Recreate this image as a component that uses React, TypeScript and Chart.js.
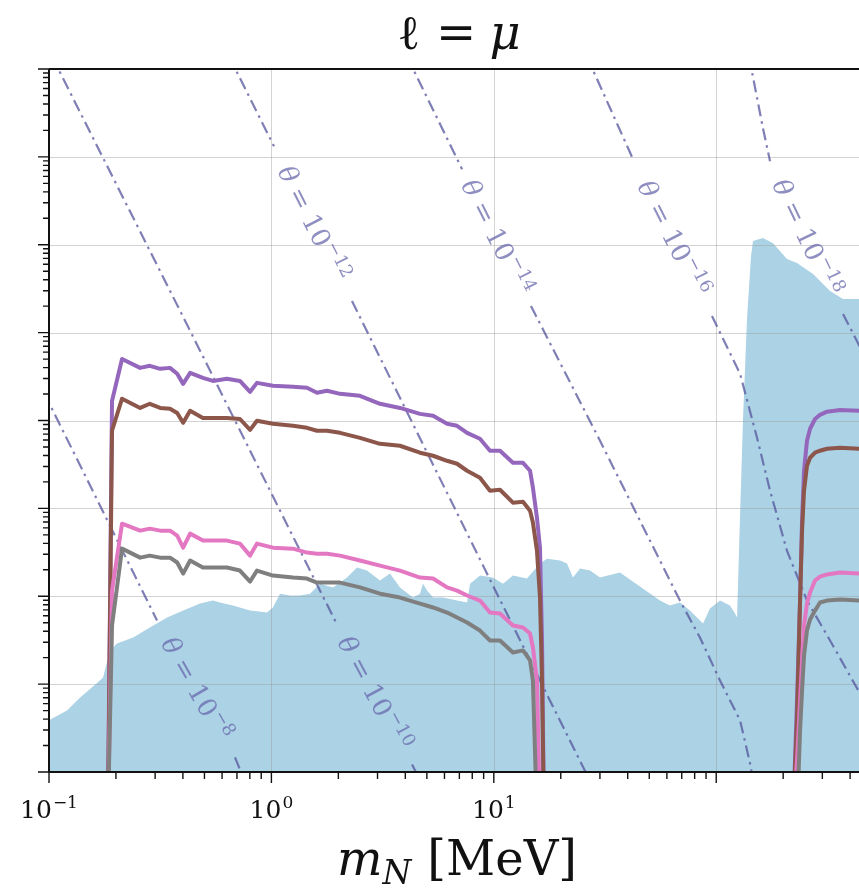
import React, { useEffect, useRef } from "react";
import { Chart, registerables } from "chart.js";

Chart.register(...registerables);

// ---------------- data (m_N in MeV, y in arbitrary units) ----------------
const X_MIN = 0.1;
const X_MAX = 438.5;
const Y_MIN = 1;
const Y_MAX = 1e8;

// low-mass branch of the four sensitivity curves
const massLow = [0.184, 0.192, 0.213, 0.257, 0.284, 0.316, 0.35, 0.377, 0.401, 0.431, 0.492, 0.546, 0.631, 0.722, 0.802, 0.861, 1.016, 1.25, 1.445, 1.603, 1.778, 2.035, 2.502, 3.078, 3.786, 4.656, 5.332, 6.163, 6.836, 7.582, 8.664, 9.611, 10.66, 12.19, 13.53, 14.55, 14.99, 15.63, 16.13, 16.47, 16.81];
// high-mass branch
const massHigh = [221.5, 230.8, 238.2, 243.2, 248.2, 255.9, 264.2, 278.1, 292.9, 314.8, 360.3, 442.9];

const purpleLow = [0.3, 1.67e4, 5.02e4, 3.97e4, 4.19e4, 3.87e4, 3.97e4, 3.4e4, 2.61e4, 3.48e4, 3.05e4, 2.82e4, 2.98e4, 2.82e4, 2.12e4, 2.68e4, 2.48e4, 2.42e4, 2.36e4, 2.07e4, 2.18e4, 2.01e4, 1.91e4, 1.55e4, 1.39e4, 1.19e4, 1.13e4, 9.18e3, 8.71e3, 7.24e3, 6.19e3, 4.53e3, 4.53e3, 3.3e3, 3.3e3, 2.68e3, 1.72e3, 783, 357, 31.4, 0.3];
const purpleHigh = [0.3, 6.53, 89.3, 725, 2.68e3, 5.88e3, 8.05e3, 1.04e4, 1.16e4, 1.26e4, 1.32e4, 1.29e4];

const brownLow = [0.3, 7.64e3, 1.77e4, 1.39e4, 1.55e4, 1.39e4, 1.36e4, 1.22e4, 9.42e3, 1.29e4, 1.07e4, 1.07e4, 1.07e4, 1.04e4, 7.83e3, 9.93e3, 9.18e3, 8.71e3, 8.26e3, 7.64e3, 7.64e3, 7.24e3, 6.35e3, 5.43e3, 5.16e3, 4.3e3, 3.97e3, 3.48e3, 3.22e3, 2.68e3, 2.23e3, 1.59e3, 1.63e3, 1.16e3, 1.19e3, 942, 689, 330, 96.6, 11.0, 0.3];
const brownHigh = [0.3, 3.87, 89.3, 558, 1.59e3, 3.05e3, 3.77e3, 4.3e3, 4.53e3, 4.77e3, 4.89e3, 4.77e3];

const pinkLow = [0.3, 116, 670, 558, 588, 558, 558, 490, 357, 516, 430, 430, 430, 397, 290, 397, 357, 348, 314, 305, 305, 290, 255, 223, 196, 163, 159, 126, 116, 102, 89.3, 65.3, 63.5, 46.5, 44.1, 37.7, 26.1, 11.0, 0.3, 0.3, 0.3];
const pinkHigh = [0.3, 1.36, 6.53, 18.6, 46.5, 82.6, 110, 151, 167, 177, 186, 181];

const grayLow = [0.3, 46.5, 348, 275, 290, 275, 275, 242, 181, 255, 212, 212, 212, 196, 147, 196, 172, 163, 159, 143, 143, 143, 126, 107, 96.6, 82.6, 74.5, 65.3, 57.3, 50.2, 40.7, 31.4, 31.4, 22.9, 24.2, 18.6, 11.0, 0.3, 0.3, 0.3, 0.3];
const grayHigh = [0.3, 0.3, 2.98, 8.47, 21.2, 40.7, 54.3, 68.7, 84.8, 89.3, 91.8, 89.3];

// upper edge of the shaded (excluded) region
const boundMass = [0.1, 0.1205, 0.138, 0.164, 0.175, 0.188, 0.202, 0.239, 0.284, 0.34, 0.401, 0.478, 0.546, 0.587, 0.671, 0.802, 0.955, 1.016, 1.093, 1.212, 1.345, 1.492, 1.654, 1.892, 2.188, 2.427, 2.69, 3.078, 3.414, 3.786, 4.334, 4.656, 4.806, 5.01, 5.332, 5.912, 6.836, 7.582, 7.82, 8.664, 9.909, 10.99, 12.19, 14.09, 16.13, 17.34, 19.85, 21.33, 22.7, 24.42, 27.08, 30.03, 36.9, 45.41, 55.85, 61.9, 68.69, 76.17, 87.24, 93.72, 104.0, 115.3, 121.5, 124.1, 126.6, 132.0, 137.6, 143.4, 146.4, 162.2, 180.1, 208.0, 230.8, 272.5, 324.9, 371.7, 442.9];
const boundValue = [3.87, 5.02, 7.06, 10.2, 11.9, 24.2, 29.0, 34.0, 44.1, 57.3, 68.9, 82.6, 89.3, 84.8, 78.3, 68.9, 65.3, 74.5, 107, 102, 102, 107, 139, 126, 163, 212, 196, 151, 181, 126, 96.6, 107, 139, 116, 96.6, 96.6, 89.3, 84.8, 139, 172, 163, 139, 172, 159, 236, 268, 255, 236, 163, 207, 196, 163, 186, 129, 89.3, 78.3, 84.8, 68.9, 49.0, 72.5, 89.3, 78.3, 63.5, 57.3, 330, 1.07e4, 1.47e5, 7.44e5, 1.1e6, 1.19e6, 1.04e6, 6.88e5, 6.19e5, 4.65e5, 2.98e5, 2.42e5, 2.42e5];

// iso-mixing contours (null = break where the inline label sits)
const thetaExponents = ["\u22128", "\u221210", "\u221212", "\u221214", "\u221216", "\u221218"];
const thetaMass = [
  [0.095, 0.306, 0.45, 0.686, 0.777],
  [0.1031, 0.431, 1.952, 3.0, 4.289, 4.656],
  [0.645, 1.027, 1.6, 2.303, 16.13, 27.08],
  [4.07, 7.199, 10, 14.69, 30.03, 68.69, 84.47, 104.0, 128.0, 141.9, 146.4],
  [26.2, 42.65, 60, 95.68, 128.0, 152.6, 174.6, 208.0, 255.9, 324.9, 442.9],
  [140.4, 162.2, 174.6, 250, 371.7, 452.4],
];
const thetaValue = [
  [2.07e4, 53.0, null, 1.47, 0.67],
  [1.39e8, 1.05e5, 50.2, null, 1.22, 0.805],
  [1.39e8, 1.32e7, null, 2.29e5, 11.0, 0.79],
  [1.39e8, 7.25e6, null, 2.01e5, 5.88e3, 89.3, 34.0, 11.0, 3.87, 1.26, 0.81],
  [1.39e8, 8.93e6, null, 1.55e5, 3.4e4, 6.35e3, 1.59e3, 330, 89.3, 31.4, 7.84],
  [1.39e8, 2.12e7, 8.93e6, null, 1.63e5, 6.19e4],
];

// x tick labels
const xTickValues = [0.1, 1, 10];
const xTickExps = ["\u22121", "0", "1"];

// ---------------- styling ----------------
const FONT = '"DejaVu Serif", serif';
const FILL_COLOR = "rgb(172,210,229)";
const THETA_LINE = "rgba(84,84,156,0.75)";
const THETA_TEXT = "rgba(104,104,172,0.75)";
const GRID = "rgba(150,150,150,0.42)";

const pts = (xs: number[], ys: (number | null)[]) => xs.map((x, i) => ({ x, y: ys[i] }));

function drawThetaLabel(ctx: CanvasRenderingContext2D, chart: any, masses: number[], values: (number | null)[], exp: string) {
  const gi = values.indexOf(null);
  const xs = chart.scales.x, ys = chart.scales.y;
  const x1 = xs.getPixelForValue(masses[gi - 1]), y1 = ys.getPixelForValue(values[gi - 1]);
  const x2 = xs.getPixelForValue(masses[gi + 1]), y2 = ys.getPixelForValue(values[gi + 1]);
  const ang = Math.atan2(y2 - y1, x2 - x1);
  const size = 26, sup = 18;
  const fIt = `italic ${size}px ${FONT}`, fRe = `${size}px ${FONT}`, fSu = `${sup}px ${FONT}`;
  ctx.save();
  ctx.translate((x1 + x2) / 2, (y1 + y2) / 2);
  ctx.rotate(ang);
  ctx.fillStyle = THETA_TEXT;
  ctx.textAlign = "left";
  ctx.textBaseline = "alphabetic";
  ctx.font = fIt; const wT = ctx.measureText("\u03b8").width;
  ctx.font = fRe; const wEq = ctx.measureText("=").width; const w10 = ctx.measureText("10").width;
  ctx.font = fSu; const wE = ctx.measureText(exp).width;
  const gap = size * 0.32;
  const total = wT + gap + wEq + gap + w10 + 1 + wE;
  let cx = -total / 2;
  const base = size * 0.33;
  ctx.font = fIt; ctx.fillText("\u03b8", cx, base); cx += wT + gap;
  ctx.font = fRe; ctx.fillText("=", cx, base); cx += wEq + gap;
  ctx.fillText("10", cx, base); cx += w10 + 1;
  ctx.font = fSu; ctx.fillText(exp, cx, base - size * 0.42);
  ctx.restore();
}

const decorPlugin = {
  id: "decor",
  afterDatasetDraw(chart: any, args: any) {
    if (args.index !== 0) return;
    const { ctx, chartArea: a, scales } = chart;
    const x = scales.x, y = scales.y;
    ctx.save();
    ctx.strokeStyle = GRID;
    ctx.lineWidth = 1;
    ctx.beginPath();
    for (let n = 1; n <= 7; n++) {
      const py = Math.round(y.getPixelForValue(Math.pow(10, n))) + 0.5;
      ctx.moveTo(a.left, py); ctx.lineTo(a.right, py);
    }
    for (const v of [1, 10, 100]) {
      const px = Math.round(x.getPixelForValue(v)) + 0.5;
      ctx.moveTo(px, a.top); ctx.lineTo(px, a.bottom);
    }
    ctx.stroke();
    ctx.restore();
  },
  afterDraw(chart: any) {
    const { ctx, chartArea: a, scales } = chart;
    const x = scales.x, y = scales.y;
    ctx.save();
    // theta labels
    for (let i = 0; i < thetaMass.length; i++) {
      drawThetaLabel(ctx, chart, thetaMass[i], thetaValue[i], thetaExponents[i]);
    }
    // spines
    ctx.strokeStyle = "#111";
    ctx.lineWidth = 2;
    ctx.beginPath();
    ctx.moveTo(a.left, a.top); ctx.lineTo(a.right, a.top);
    ctx.moveTo(a.left, a.top); ctx.lineTo(a.left, a.bottom);
    ctx.moveTo(a.left, a.bottom); ctx.lineTo(a.right, a.bottom);
    ctx.stroke();
    // y ticks
    ctx.lineWidth = 1.4;
    ctx.beginPath();
    for (let n = 0; n <= 8; n++) {
      const py = y.getPixelForValue(Math.pow(10, n));
      ctx.moveTo(a.left, py); ctx.lineTo(a.left - 11, py);
      if (n < 8) {
        for (let k = 2; k <= 9; k++) {
          const pm = y.getPixelForValue(k * Math.pow(10, n));
          ctx.moveTo(a.left, pm); ctx.lineTo(a.left - 6, pm);
        }
      }
    }
    // x ticks
    for (let n = -1; n <= 2; n++) {
      const base = Math.pow(10, n);
      const px = x.getPixelForValue(base);
      ctx.moveTo(px, a.bottom); ctx.lineTo(px, a.bottom + 11);
      for (let k = 2; k <= 9; k++) {
        const v = k * base;
        if (v > X_MAX) break;
        const pm = x.getPixelForValue(v);
        ctx.moveTo(pm, a.bottom); ctx.lineTo(pm, a.bottom + 7);
      }
    }
    ctx.stroke();
    // x tick labels
    ctx.fillStyle = "#111";
    ctx.textBaseline = "alphabetic";
    ctx.textAlign = "left";
    for (let i = 0; i < xTickValues.length; i++) {
      const px = x.getPixelForValue(xTickValues[i]);
      ctx.font = `25px ${FONT}`;
      const w1 = ctx.measureText("10").width;
      ctx.font = `17px ${FONT}`;
      const w2 = ctx.measureText(xTickExps[i]).width;
      const start = px - (w1 + 1 + w2) / 2;
      ctx.font = `25px ${FONT}`;
      ctx.fillText("10", start, 818);
      ctx.font = `17px ${FONT}`;
      ctx.fillText(xTickExps[i], start + w1 + 1, 808);
    }
    // axis title: m_N [MeV]
    const fM = `italic 48px ${FONT}`, fN = `italic 33px ${FONT}`, fR = `48px ${FONT}`;
    ctx.font = fM; const wm = ctx.measureText("m").width;
    ctx.font = fN; const wn = ctx.measureText("N").width;
    ctx.font = fR; const wr = ctx.measureText("[MeV]").width;
    const sp = 16;
    let tx = 457 - (wm + wn + sp + wr) / 2;
    ctx.font = fM; ctx.fillText("m", tx, 875); tx += wm;
    ctx.font = fN; ctx.fillText("N", tx, 884); tx += wn + sp;
    ctx.font = fR; ctx.fillText("[MeV]", tx, 875);
    // title: ℓ = μ
    ctx.textAlign = "center";
    ctx.font = `48px ${FONT}`;
    ctx.fillText("\u2113", 409, 49);
    ctx.fillText("=", 456, 49);
    ctx.font = `italic 48px ${FONT}`;
    ctx.fillText("\u03bc", 505, 49);
    ctx.restore();
  },
};

export default function App() {
  const ref = useRef<HTMLCanvasElement | null>(null);
  useEffect(() => {
    if (!ref.current) return;
    const curve = (label: string, color: string, low: number[], high: number[]) => ({
      label,
      data: pts([...massLow, ...massHigh], [...low, ...high]),
      borderColor: color,
      borderWidth: 4,
      borderJoinStyle: "round" as const,
      pointRadius: 0,
      fill: false,
      tension: 0,
      order: 1,
    });
    const thetaSets = thetaMass.map((m, i) => ({
      label: "theta " + thetaExponents[i],
      data: pts(m, thetaValue[i]),
      borderColor: THETA_LINE,
      borderWidth: 2.2,
      borderDash: [12, 5, 2.5, 5],
      pointRadius: 0,
      fill: false,
      spanGaps: false,
      tension: 0,
      order: 5,
    }));
    const chart = new Chart(ref.current, {
      type: "line",
      data: {
        datasets: [
          {
            label: "excluded",
            data: pts(boundMass, boundValue),
            backgroundColor: FILL_COLOR,
            borderColor: FILL_COLOR,
            borderWidth: 0,
            pointRadius: 0,
            fill: "start",
            tension: 0,
            order: 10,
          },
          ...thetaSets,
          curve("gray", "#7f7f7f", grayLow, grayHigh),
          curve("pink", "#e377c2", pinkLow, pinkHigh),
          curve("brown", "#8c564b", brownLow, brownHigh),
          curve("purple", "#9467bd", purpleLow, purpleHigh),
        ] as any,
      },
      options: {
        animation: false,
        responsive: false,
        devicePixelRatio: 1,
        layout: { padding: { top: 69, left: 0, right: 0, bottom: 0 } },
        plugins: {
          legend: { display: false },
          tooltip: { enabled: false },
          title: { display: false },
        },
        scales: {
          x: {
            type: "logarithmic",
            min: X_MIN,
            max: X_MAX,
            ticks: { display: false },
            grid: { display: false },
            border: { display: false },
            afterFit: (s: any) => { s.height = 117; },
          },
          y: {
            type: "logarithmic",
            min: Y_MIN,
            max: Y_MAX,
            ticks: { display: false },
            grid: { display: false },
            border: { display: false },
            afterFit: (s: any) => { s.width = 49; },
          },
        },
      } as any,
      plugins: [decorPlugin as any],
    });
    return () => chart.destroy();
  }, []);
  return (
    <div style={{ position: "fixed", left: 0, top: 0, width: 859, height: 889, overflow: "hidden", background: "#fff" }}>
      <canvas ref={ref} width={859} height={889} style={{ display: "block", width: 859, height: 889 }} />
    </div>
  );
}
